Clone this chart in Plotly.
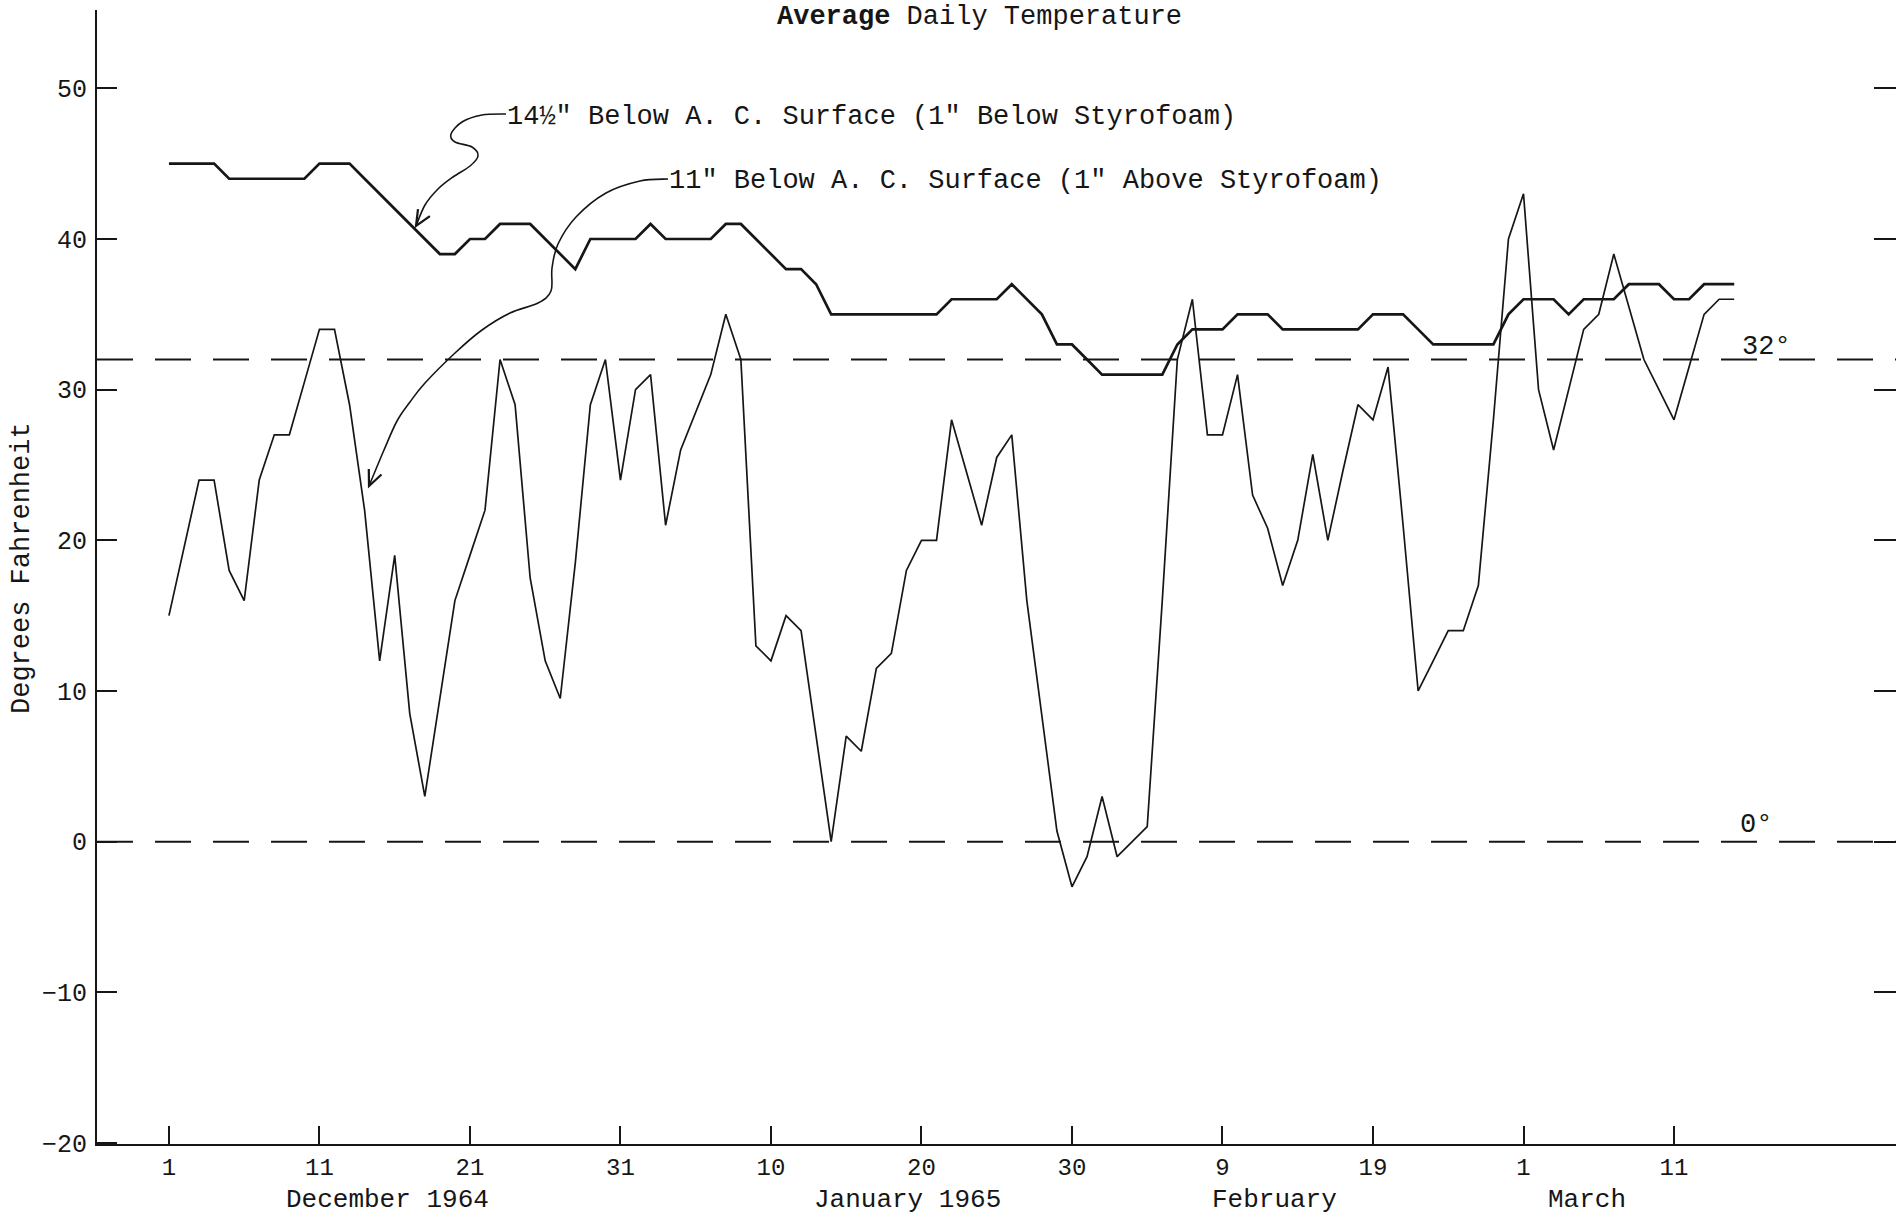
import math
import pandas as pd
import plotly.graph_objects as go

# ---------------- data ----------------
dates = pd.date_range("1964-12-01", "1965-03-15", freq="D")

# 14 1/2" below A.C. surface (1" below Styrofoam)
temp_below_styrofoam = [
    45, 45, 45, 45, 44, 44, 44, 44, 44, 44,
    45, 45, 45, 44, 43, 42, 41, 40, 39, 39,
    40, 40, 41, 41, 41, 40, 39, 38, 40, 40,
    40, 40, 41, 40, 40, 40, 40, 41, 41, 40,
    39, 38, 38, 37, 35, 35, 35, 35, 35, 35,
    35, 35, 36, 36, 36, 36, 37, 36, 35, 33,
    33, 32, 31, 31, 31, 31, 31, 33, 34, 34,
    34, 35, 35, 35, 34, 34, 34, 34, 34, 34,
    35, 35, 35, 34, 33, 33, 33, 33, 33, 35,
    36, 36, 36, 35, 36, 36, 36, 37, 37, 37,
    36, 36, 37, 37, 37,
]

# 11" below A.C. surface (1" above Styrofoam)
temp_above_styrofoam = [
    15, 19.5, 24, 24, 18, 16, 24, 27, 27, 30.5,
    34, 34, 29, 22, 12, 19, 8.5, 3, 9.5, 16,
    19, 22, 32, 29, 17.5, 12, 9.5, 18.5, 29, 32,
    24, 30, 31, 21, 26, 28.5, 31, 35, 32, 13,
    12, 15, 14, 7, 0, 7, 6, 11.5, 12.5, 18,
    20, 20, 28, 24.5, 21, 25.5, 27, 16, 8.5, 0.7,
    -3, -1, 3, -1, 0, 1, 16, 32, 36, 27,
    27, 31, 23, 20.8, 17, 20, 25.7, 20, 24.6, 29,
    28, 31.5, 21, 10, 12, 14, 14, 17, 28, 40,
    43, 30, 26, 30, 34, 35, 39, 35.5, 32, 30,
    28, 31.5, 35, 36, 36,
]

tick_dates = ["1964-12-01", "1964-12-11", "1964-12-21", "1964-12-31",
              "1965-01-10", "1965-01-20", "1965-01-30", "1965-02-09",
              "1965-02-19", "1965-03-01", "1965-03-11"]
tick_labels = ["1", "11", "21", "31", "10", "20", "30", "9", "19", "1", "11"]

month_labels = ["December 1964", "January 1965", "February", "March"]
month_label_dates = ["1964-12-15 12:00", "1965-01-19 02:00",
                     "1965-02-12 11:00", "1965-03-05 05:00"]

y_ticks = [-20, -10, 0, 10, 20, 30, 40, 50]
reference_levels = [32, 0]
reference_labels = ["32°", "0°"]

title_text = "<b>Average</b> Daily Temperature"
label_below = "14½\" Below A. C. Surface (1\" Below Styrofoam)"
label_above = "11\" Below A. C. Surface (1\" Above Styrofoam)"
y_title = "Degrees Fahrenheit"

# ---------------- layout geometry ----------------
W, H = 1896, 1217
ML, MR, MT, MB = 97, 0, 10, 73
PW, PH = W - ML - MR, H - MT - MB
FONT = "Liberation Mono, Courier New, monospace"
INK = "#161616"


def to_paper(p):
    x, y = p
    return ((x - ML) / PW, (H - MB - y) / PH)


def smooth_path(pts):
    n = len(pts)
    s = []
    x0, y0 = to_paper(pts[0])
    s.append(f"M {x0:.5f},{y0:.5f}")
    for i in range(n - 1):
        p0 = pts[i - 1] if i > 0 else pts[i]
        p1 = pts[i]
        p2 = pts[i + 1]
        p3 = pts[i + 2] if i + 2 < n else pts[i + 1]
        c1 = (p1[0] + (p2[0] - p0[0]) / 6, p1[1] + (p2[1] - p0[1]) / 6)
        c2 = (p2[0] - (p3[0] - p1[0]) / 6, p2[1] - (p3[1] - p1[1]) / 6)
        a, b, c = to_paper(c1), to_paper(c2), to_paper(p2)
        s.append(f"C {a[0]:.5f},{a[1]:.5f} {b[0]:.5f},{b[1]:.5f} {c[0]:.5f},{c[1]:.5f}")
    return " ".join(s)


def arrow_head(tip, prev, length=17, ang=24):
    dx, dy = tip[0] - prev[0], tip[1] - prev[1]
    L = math.hypot(dx, dy)
    ux, uy = dx / L, dy / L
    pts = []
    for sgn in (1, -1):
        a = math.radians(ang) * sgn
        rx = ux * math.cos(a) - uy * math.sin(a)
        ry = ux * math.sin(a) + uy * math.cos(a)
        pts.append((tip[0] - length * rx, tip[1] - length * ry))
    a1, t, a2 = to_paper(pts[0]), to_paper(tip), to_paper(pts[1])
    return f"M {a1[0]:.5f},{a1[1]:.5f} L {t[0]:.5f},{t[1]:.5f} L {a2[0]:.5f},{a2[1]:.5f}"


# leader curves (pixel positions of the hand-drawn pointers)
curve_below = [(506, 114), (482, 115), (462, 122), (451, 134), (455, 142),
               (472, 147), (478, 156), (470, 166), (453, 177), (438, 189),
               (425, 205), (416, 226)]
curve_above = [(668, 179), (640, 181), (606, 193), (576, 217), (558, 244),
               (552, 268), (551, 291), (538, 303), (510, 313), (482, 330),
               (455, 353), (425, 383), (410, 402), (397, 421), (384, 450),
               (369, 486)]

# ---------------- figure ----------------
fig = go.Figure()
fig.add_trace(go.Scatter(x=dates, y=temp_below_styrofoam, mode="lines",
                         line=dict(color=INK, width=2.7), name=label_below,
                         showlegend=False))
fig.add_trace(go.Scatter(x=dates, y=temp_above_styrofoam, mode="lines",
                         line=dict(color=INK, width=1.7), name=label_above,
                         showlegend=False))
fig.add_trace(go.Scatter(x=[dates[0]], y=[None], yaxis="y2", mode="lines",
                         showlegend=False, hoverinfo="skip"))

shapes = []
for lvl in reference_levels:
    shapes.append(dict(type="line", xref="paper", x0=0, x1=1, yref="y",
                       y0=lvl, y1=lvl, line=dict(color=INK, width=2, dash="36px,22px"),
                       layer="below"))
for curve in (curve_below, curve_above):
    shapes.append(dict(type="path", xref="paper", yref="paper",
                       path=smooth_path(curve), line=dict(color=INK, width=1.6)))
    shapes.append(dict(type="path", xref="paper", yref="paper",
                       path=arrow_head(curve[-1], curve[-3]),
                       line=dict(color=INK, width=2.2)))

tfont = dict(family=FONT, size=27, color=INK)
annotations = [
    dict(text=title_text, xref="paper", yref="paper", x=(979 - ML) / PW,
         y=(H - MB - 17) / PH, xanchor="center", yanchor="middle",
         showarrow=False, font=tfont),
    dict(text=label_below, xref="paper", yref="paper", x=(505 - ML) / PW,
         y=(H - MB - 117) / PH, xanchor="left", yanchor="middle",
         showarrow=False, font=tfont),
    dict(text=label_above, xref="paper", yref="paper", x=(667 - ML) / PW,
         y=(H - MB - 181) / PH, xanchor="left", yanchor="middle",
         showarrow=False, font=tfont),
    dict(text=y_title, xref="paper", yref="paper", x=(22 - ML) / PW,
         y=(H - MB - 568) / PH, xanchor="center", yanchor="middle",
         textangle=-90, showarrow=False, font=tfont),
    dict(text=reference_labels[0], xref="paper", yref="y", x=(1766 - ML) / PW,
         y=reference_levels[0], xanchor="center", yanchor="bottom", yshift=-4,
         showarrow=False, font=tfont),
    dict(text=reference_labels[1], xref="paper", yref="y", x=(1756 - ML) / PW,
         y=reference_levels[1], xanchor="center", yanchor="bottom", yshift=0,
         showarrow=False, font=tfont),
]
for txt, dt in zip(month_labels, month_label_dates):
    annotations.append(dict(text=txt, xref="x", yref="paper", x=dt, y=0,
                            yshift=-56, xanchor="center", yanchor="middle",
                            showarrow=False, font=dict(family=FONT, size=26, color=INK)))

yrange = [-20.07, 55.2]
fig.update_layout(
    width=W, height=H,
    margin=dict(l=ML, r=MR, t=MT, b=MB, pad=0, autoexpand=False),
    paper_bgcolor="white", plot_bgcolor="white",
    showlegend=False,
    shapes=shapes,
    annotations=annotations,
    xaxis=dict(type="date", range=["1964-11-26 05:17", "1965-03-25 18:00"],
               tickmode="array", tickvals=tick_dates, ticktext=tick_labels,
               ticks="inside", ticklen=18, tickwidth=2, tickcolor=INK,
               showline=True, linewidth=2, linecolor=INK, showgrid=False,
               zeroline=False, ticklabelstandoff=0, automargin=False,
               tickfont=dict(family=FONT, size=24, color=INK)),
    yaxis=dict(range=yrange, tickmode="array", tickvals=y_ticks,
               ticks="inside", ticklen=20, tickwidth=2, tickcolor=INK,
               showline=True, linewidth=2, linecolor=INK, showgrid=False,
               zeroline=False, ticklabelstandoff=3, automargin=False,
               tickfont=dict(family=FONT, size=25, color=INK)),
    yaxis2=dict(range=yrange, overlaying="y", side="right", anchor="x",
                tickmode="array", tickvals=y_ticks[1:], ticks="inside",
                ticklen=22, tickwidth=2, tickcolor=INK, showline=False,
                showticklabels=False, showgrid=False, zeroline=False,
                automargin=False),
)

fig.write_html(
    "out.html",
    config={"displayModeBar": False},
    post_script="document.body.style.margin='0px';document.body.style.overflow='hidden';",
)
